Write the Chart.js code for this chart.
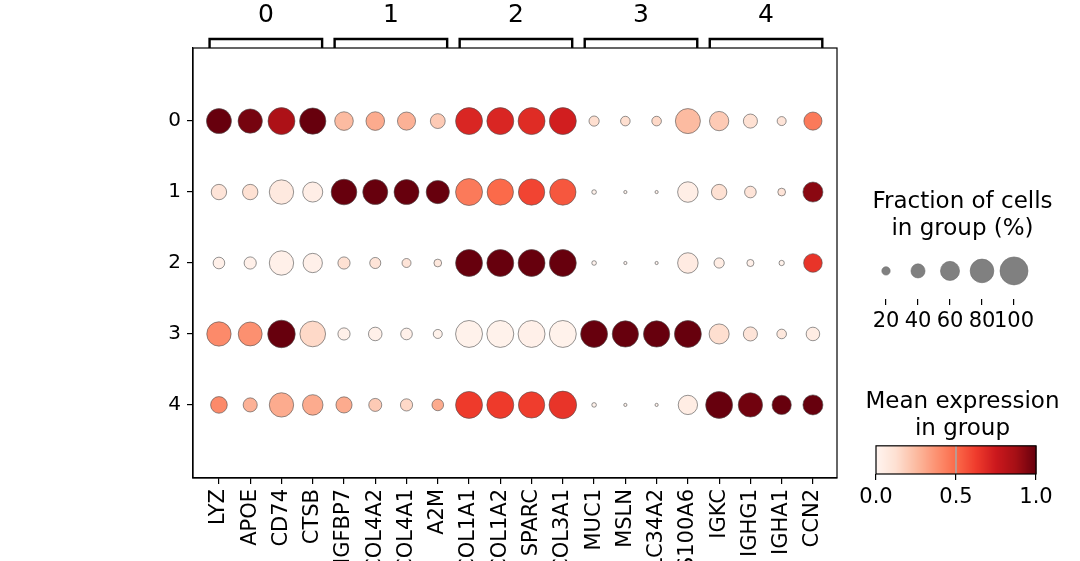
<!DOCTYPE html>
<html>
<head>
<meta charset="utf-8">
<script src="https://cdn.jsdelivr.net/npm/chart.js@4/dist/chart.umd.min.js"></script>
<style>
  body { margin: 0; background: #fff; }
  #wrap { position: relative; width: 1080px; height: 561px; overflow: hidden; }
  canvas { position: absolute; }
</style>
</head>
<body>
<div id="wrap">
  <canvas id="dots" width="1080" height="561" style="left:0;top:0"></canvas>
  <canvas id="sizeLegend" width="235" height="160" style="left:845px;top:180px"></canvas>
  <canvas id="colorBar" width="235" height="140" style="left:845px;top:380px"></canvas>
</div>
<script>
// genes on x, clusters on y
const genes = ["LYZ", "APOE", "CD74", "CTSB", "IGFBP7", "COL4A2", "COL4A1", "A2M",
    "COL1A1", "COL1A2", "SPARC", "COL3A1", "MUC1", "MSLN", "SLC34A2", "S100A6",
    "IGKC", "IGHG1", "IGHA1", "CCN2"];
const clusters = ["0", "1", "2", "3", "4"];

// marker gene groups (bracket on top)
const groupLabels = ["0", "1", "2", "3", "4"];
const groupStart = [0, 4, 8, 12, 16];
const groupEnd = [3, 7, 11, 15, 19];

// fraction of cells expressing (0-1), one array per cluster
const frac0 = [0.86, 0.83, 0.95, 0.92, 0.58, 0.58, 0.56, 0.43, 0.95, 0.95, 0.95, 0.95, 0.26, 0.24, 0.24, 0.86, 0.61, 0.40, 0.22, 0.56];
const frac1 = [0.45, 0.45, 0.83, 0.64, 0.89, 0.86, 0.86, 0.78, 0.95, 0.92, 0.92, 0.92, 0.09, 0.055, 0.055, 0.66, 0.45, 0.31, 0.18, 0.64];
const frac2 = [0.31, 0.33, 0.83, 0.61, 0.33, 0.29, 0.22, 0.18, 0.95, 0.95, 0.95, 0.95, 0.09, 0.055, 0.055, 0.66, 0.26, 0.16, 0.11, 0.58];
const frac3 = [0.83, 0.81, 0.98, 0.89, 0.33, 0.38, 0.31, 0.22, 0.95, 0.95, 0.95, 0.95, 0.95, 0.92, 0.92, 0.95, 0.64, 0.40, 0.24, 0.38];
const frac4 = [0.50, 0.40, 0.83, 0.66, 0.48, 0.36, 0.33, 0.31, 0.95, 0.95, 0.92, 0.98, 0.09, 0.055, 0.055, 0.61, 0.95, 0.83, 0.61, 0.64];

// scaled mean expression (0-1), one array per cluster
const expr0 = [1.00, 0.97, 0.85, 1.00, 0.25, 0.30, 0.28, 0.20, 0.70, 0.70, 0.68, 0.73, 0.13, 0.13, 0.15, 0.25, 0.20, 0.12, 0.10, 0.45];
const expr1 = [0.10, 0.12, 0.07, 0.04, 1.00, 1.00, 1.00, 1.00, 0.45, 0.50, 0.60, 0.55, 0.02, 0.02, 0.02, 0.04, 0.12, 0.10, 0.10, 0.93];
const expr2 = [0.03, 0.03, 0.03, 0.03, 0.12, 0.10, 0.10, 0.08, 1.00, 1.00, 1.00, 1.00, 0.01, 0.01, 0.01, 0.06, 0.05, 0.03, 0.02, 0.65];
const expr3 = [0.40, 0.38, 1.00, 0.15, 0.03, 0.03, 0.03, 0.02, 0.02, 0.02, 0.03, 0.02, 1.00, 1.00, 1.00, 1.00, 0.13, 0.10, 0.08, 0.05];
const expr4 = [0.40, 0.28, 0.30, 0.30, 0.30, 0.20, 0.15, 0.30, 0.63, 0.63, 0.62, 0.65, 0.02, 0.02, 0.02, 0.05, 1.00, 0.98, 1.00, 1.00];

const fracs = [frac0, frac1, frac2, frac3, frac4];
const exprs = [expr0, expr1, expr2, expr3, expr4];

// legend values
const sizeLegendValues = [20, 40, 60, 80, 100];
const colorBarTicks = [0, 0.5, 1];

Chart.defaults.font.family = "'DejaVu Sans', sans-serif";
Chart.defaults.color = "#000";

// Reds colormap
const redsStops = ["#fff5f0", "#fee0d2", "#fcbba1", "#fc9272", "#fb6a4a", "#ef3b2c", "#cb181d", "#a50f15", "#67000d"];
function hexRgb(h) {
    return [parseInt(h.slice(1, 3), 16), parseInt(h.slice(3, 5), 16), parseInt(h.slice(5, 7), 16)];
}
function reds(v) {
    v = Math.max(0, Math.min(1, v));
    const p = v * (redsStops.length - 1);
    const i = Math.min(Math.floor(p), redsStops.length - 2);
    const t = p - i;
    const a = hexRgb(redsStops[i]), b = hexRgb(redsStops[i + 1]);
    const c = a.map((x, k) => Math.round(x + (b[k] - x) * t));
    return `rgb(${c[0]},${c[1]},${c[2]})`;
}
// dot size like scanpy: area ~ frac^1.5
function dotRadius(f) {
    return 14 * Math.pow(f, 0.75);
}

const tickFont = { size: 20 };
const titleFont = { size: 23, weight: "normal", lineHeight: 1.17 };

// invisible side axes just to place the chart area
function spacer(pos, w) {
    return {
        position: pos,
        display: true,
        min: -1,
        max: 1,
        ticks: { display: false },
        grid: { display: false },
        border: { display: false },
        afterFit: s => { s.width = w; }
    };
}

const framePlugin = {
    id: "frame",
    afterDraw(chart) {
        const { ctx, chartArea: a, scales } = chart;
        ctx.save();
        ctx.strokeStyle = "#000";
        ctx.lineWidth = 1.2;
        ctx.strokeRect(a.left, a.top, a.right - a.left, a.bottom - a.top);

        // group brackets
        ctx.lineWidth = 2.4;
        ctx.font = "25px 'DejaVu Sans'";
        ctx.fillStyle = "#000";
        ctx.textAlign = "center";
        ctx.textBaseline = "middle";
        groupLabels.forEach((lab, i) => {
            const x1 = scales.x.getPixelForValue(groupStart[i] - 0.3);
            const x2 = scales.x.getPixelForValue(groupEnd[i] + 0.3);
            ctx.beginPath();
            ctx.moveTo(x1, a.top);
            ctx.lineTo(x1, 39);
            ctx.lineTo(x2, 39);
            ctx.lineTo(x2, a.top);
            ctx.stroke();
            ctx.fillText(lab, (x1 + x2) / 2, 15);
        });
        ctx.restore();
    }
};

new Chart(document.getElementById("dots"), {
    type: "scatter",
    data: {
        datasets: clusters.map((c, row) => ({
            label: c,
            data: genes.map((g, i) => ({ x: i, y: row, f: fracs[row][i], e: exprs[row][i] })),
            pointRadius: ctx => dotRadius(ctx.raw.f),
            backgroundColor: ctx => reds(ctx.raw.e),
            borderColor: "#4d4d4d",
            borderWidth: 0.6
        }))
    },
    options: {
        responsive: false,
        animation: false,
        events: [],
        layout: { padding: { top: 48, right: 243, left: 0, bottom: 0 } },
        plugins: { legend: { display: false }, tooltip: { enabled: false } },
        scales: {
            x: {
                type: "linear",
                min: -0.83,
                max: 19.77,
                afterBuildTicks: s => { s.ticks = genes.map((g, i) => ({ value: i })); },
                afterFit: s => { s.height = 83; },
                ticks: {
                    callback: v => genes[v],
                    autoSkip: false,
                    minRotation: 90,
                    maxRotation: 90,
                    font: { size: 21 },
                    padding: 5
                },
                grid: { drawOnChartArea: false, tickLength: 6, color: "#000", lineWidth: 1.2 },
                border: { color: "#000", width: 1.2 }
            },
            y: {
                type: "linear",
                reverse: true,
                min: -1.03,
                max: 5.03,
                afterBuildTicks: s => { s.ticks = clusters.map((c, i) => ({ value: i })); },
                afterFit: s => { s.width = 193; },
                ticks: { callback: v => clusters[v], font: tickFont, padding: 6 },
                grid: { drawOnChartArea: false, tickLength: 6, color: "#000", lineWidth: 1.2 },
                border: { color: "#000", width: 1.2 }
            }
        }
    },
    plugins: [framePlugin]
});

// size legend
new Chart(document.getElementById("sizeLegend"), {
    type: "scatter",
    data: {
        datasets: [{
            data: sizeLegendValues.map(v => ({ x: v, y: 0 })),
            pointRadius: ctx => dotRadius(ctx.raw.x / 100),
            backgroundColor: "#808080",
            borderColor: "#6e6e6e",
            borderWidth: 0.6
        }]
    },
    options: {
        responsive: false,
        animation: false,
        events: [],
        layout: { padding: 0 },
        plugins: {
            legend: { display: false },
            tooltip: { enabled: false },
            title: {
                display: true,
                text: ["Fraction of cells", "in group (%)"],
                font: titleFont,
                color: "#000",
                padding: { top: 9, bottom: 0 }
            }
        },
        scales: {
            x: {
                type: "linear",
                min: 10,
                max: 110,
                afterBuildTicks: s => { s.ticks = sizeLegendValues.map(v => ({ value: v })); },
                afterFit: s => { s.height = 41; },
                ticks: { font: { size: 21 }, padding: 4, maxRotation: 0, autoSkip: false },
                grid: { drawOnChartArea: false, tickLength: 6, color: "#000", lineWidth: 1.2 },
                border: { display: false }
            },
            y: spacer("left", 25),
            y2: spacer("right", 50)
        }
    }
});

// colorbar
const colorBarPlugin = {
    id: "colorBarFill",
    beforeDatasetsDraw(chart) {
        const { ctx, chartArea: a, scales } = chart;
        const steps = 160;
        ctx.save();
        for (let i = 0; i < steps; i++) {
            const v0 = i / steps, v1 = (i + 1) / steps;
            const x0 = scales.x.getPixelForValue(v0);
            const x1 = scales.x.getPixelForValue(v1);
            ctx.fillStyle = reds((v0 + v1) / 2);
            ctx.fillRect(x0, a.top, x1 - x0 + 0.5, a.bottom - a.top);
        }
        const xm = scales.x.getPixelForValue(0.5);
        ctx.strokeStyle = "#a9a9a9";
        ctx.lineWidth = 1.5;
        ctx.beginPath();
        ctx.moveTo(xm, a.top);
        ctx.lineTo(xm, a.bottom);
        ctx.stroke();
        ctx.strokeStyle = "#000";
        ctx.lineWidth = 1.2;
        ctx.strokeRect(a.left, a.top, a.right - a.left, a.bottom - a.top);
        ctx.restore();
    }
};

new Chart(document.getElementById("colorBar"), {
    type: "scatter",
    data: { datasets: [{ data: [] }] },
    options: {
        responsive: false,
        animation: false,
        events: [],
        layout: { padding: 0 },
        plugins: {
            legend: { display: false },
            tooltip: { enabled: false },
            title: {
                display: true,
                text: ["Mean expression", "in group"],
                font: titleFont,
                color: "#000",
                padding: { top: 9, bottom: 3 }
            }
        },
        scales: {
            x: {
                type: "linear",
                min: 0,
                max: 1,
                afterBuildTicks: s => { s.ticks = colorBarTicks.map(v => ({ value: v })); },
                afterFit: s => { s.height = 46; },
                ticks: { callback: v => v.toFixed(1), font: { size: 21 }, padding: 5, maxRotation: 0, autoSkip: false },
                grid: { drawOnChartArea: false, tickLength: 6, color: "#000", lineWidth: 1.2 },
                border: { display: false }
            },
            y: spacer("left", 31),
            y2: spacer("right", 44)
        }
    },
    plugins: [colorBarPlugin]
});
</script>
</body>
</html>
